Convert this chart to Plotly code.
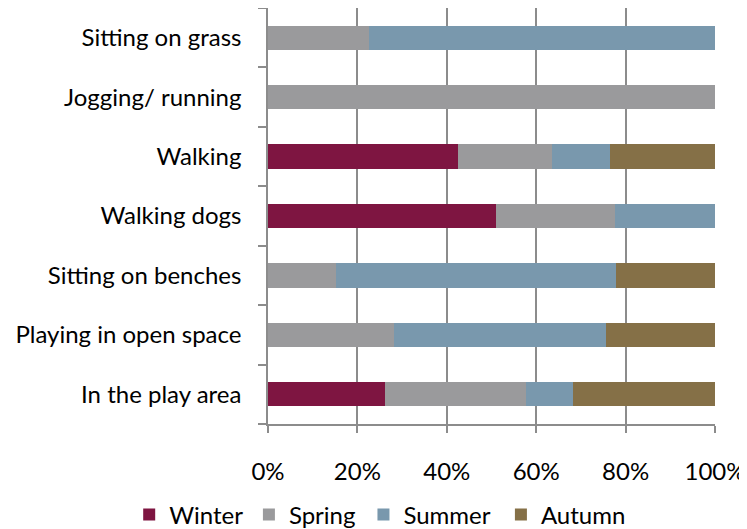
import plotly.graph_objects as go

categories = ["In the play area", "Playing in open space", "Sitting on benches",
              "Walking dogs", "Walking", "Jogging/ running", "Sitting on grass"]
winter = [26.1, 0, 0, 51.1, 42.6, 0, 0]
spring = [31.7, 28.1, 15.1, 26.6, 20.9, 100, 22.7]
summer = [10.5, 47.6, 62.8, 22.3, 12.9, 0, 77.3]
autumn = [31.7, 24.3, 22.1, 0, 23.6, 0, 0]
series_names = ["Winter", "Spring", "Summer", "Autumn"]
colors = ["#7E1541", "#9A9A9C", "#7998AD", "#857047"]
x_ticks = [0, 20, 40, 60, 80, 100]

W, H = 739, 521
legend_ids = ["legend", "legend2", "legend3", "legend4"]
legend_x = [0.164, 0.326, 0.481, 0.667]

fig = go.Figure()
for name, vals, col, lid in zip(series_names, [winter, spring, summer, autumn], colors, legend_ids):
    fig.add_trace(go.Bar(
        y=categories, x=vals, name=name, orientation="h",
        marker=dict(color=col, line=dict(width=0)),
        legend=lid,
    ))

font = "Lato, 'Open Sans', sans-serif"
legends = {}
for lid, lx in zip(legend_ids, legend_x):
    legends[lid] = dict(
        orientation="h", xref="container", yref="container",
        x=lx, xanchor="left", y=0.027, yanchor="middle",
        font=dict(size=24), itemwidth=30, bgcolor="rgba(0,0,0,0)",
    )

fig.update_layout(
    barmode="stack",
    bargap=0.59,
    width=W, height=H,
    margin=dict(l=260, r=32, t=0, b=105),
    plot_bgcolor="white", paper_bgcolor="white",
    font=dict(family=font, size=24, color="#000000"),
    showlegend=True,
    xaxis=dict(
        range=[0, 100], tickvals=x_ticks, ticktext=[f"{v}%" for v in x_ticks],
        showgrid=True, gridcolor="#8C8C8C", gridwidth=1.5,
        showline=True, linecolor="#8C8C8C", linewidth=1.5,
        ticks="outside", ticklen=7, tickcolor="#8C8C8C", tickwidth=1.5,
        zeroline=False, fixedrange=True, ticklabelstandoff=18,
    ),
    yaxis=dict(
        type="category", categoryorder="array", categoryarray=categories,
        tickson="boundaries", ticks="outside", ticklen=8,
        tickcolor="#8C8C8C", tickwidth=1.5,
        showline=True, linecolor="#8C8C8C", linewidth=1.5,
        showgrid=False, ticklabelstandoff=20,
    ),
    **legends,
)

fig.write_html("out.html")
